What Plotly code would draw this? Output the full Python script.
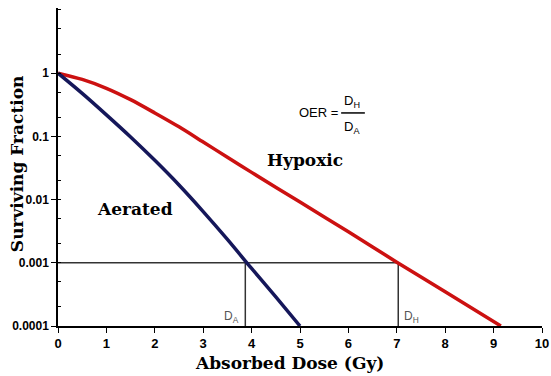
import plotly.graph_objects as go

# Dose (Gy) and log10(surviving fraction)
aerated_dose = [0, 0.5, 1.0, 1.5, 2.0, 2.5, 3.0, 3.5, 4.0, 4.5, 5.0]
aerated_logsf = [0, -0.32, -0.66, -1.01, -1.38, -1.77, -2.19, -2.63, -3.09, -3.54, -4.0]

hypoxic_dose = [0, 0.5, 1.0, 1.5, 2.0, 2.5, 3.0, 3.5, 4.0, 5.0, 6.0, 7.0, 8.0, 9.15]
hypoxic_logsf = [0, -0.10, -0.24, -0.42, -0.63, -0.85, -1.09, -1.33, -1.57, -2.04, -2.51, -2.99, -3.46, -4.0]

aerated_sf = [10 ** v for v in aerated_logsf]
hypoxic_sf = [10 ** v for v in hypoxic_logsf]

# reference level and doses
ref_sf = 0.001
d_a = 3.87
d_h = 7.03
floor_sf = 0.0001

x_ticks = list(range(0, 11))
y_tickvals = [1, 0.1, 0.01, 0.001, 0.0001]
y_ticktext = ["1", "0.1", "0.01", "0.001", "0.0001"]

ref_color = "#333333"
fig = go.Figure()

# reference lines
fig.add_trace(go.Scatter(x=[0, d_h], y=[ref_sf, ref_sf], mode="lines",
                         line=dict(color=ref_color, width=1.5), hoverinfo="skip"))
fig.add_trace(go.Scatter(x=[d_a, d_a], y=[floor_sf, ref_sf], mode="lines",
                         line=dict(color=ref_color, width=1.5), hoverinfo="skip"))
fig.add_trace(go.Scatter(x=[d_h, d_h], y=[floor_sf, ref_sf], mode="lines",
                         line=dict(color=ref_color, width=1.5), hoverinfo="skip"))

fig.add_trace(go.Scatter(x=hypoxic_dose, y=hypoxic_sf, mode="lines", name="Hypoxic",
                         line=dict(color="#CC1111", width=3.5, shape="spline", smoothing=0.8)))
fig.add_trace(go.Scatter(x=aerated_dose, y=aerated_sf, mode="lines", name="Aerated",
                         line=dict(color="#15175A", width=3.5, shape="spline", smoothing=0.8)))

serif = "DejaVu Serif"
sans = "Liberation Sans"

frac_y = 0.670
annotations = [
    dict(x=-0.0847, y=0.509, xref="paper", yref="paper", xanchor="center", yanchor="middle",
         text="<b>Surviving Fraction</b>",
         textangle=-90, showarrow=False, font=dict(family=serif, size=17, color="black")),
    dict(x=0.479, y=-0.117, xref="paper", yref="paper", xanchor="center", yanchor="middle",
         text="<b>Absorbed Dose (Gy)</b>",
         showarrow=False, font=dict(family=serif, size=17, color="black")),
    dict(x=5.10, y=-1.375, text="<b>Hypoxic</b>", showarrow=False,
         xanchor="center", yanchor="middle",
         font=dict(family=serif, size=17, color="black")),
    dict(x=1.59, y=-2.15, text="<b>Aerated</b>", showarrow=False,
         xanchor="center", yanchor="middle",
         font=dict(family=serif, size=17, color="black")),
    dict(x=d_a - 0.08, y=-3.85, text="D<sub>A</sub>", showarrow=False, xanchor="right",
         yanchor="middle", font=dict(family=sans, size=12, color="#555555")),
    dict(x=d_h + 0.08, y=-3.85, text="D<sub>H</sub>", showarrow=False, xanchor="left",
         yanchor="middle", font=dict(family=sans, size=12, color="#555555")),
    dict(x=0.582, y=frac_y, xref="paper", yref="paper", text="OER =", showarrow=False,
         xanchor="right", yanchor="middle", font=dict(family=sans, size=13, color="black")),
    dict(x=0.608, y=frac_y + 0.004, xref="paper", yref="paper", yanchor="bottom",
         xanchor="center", text="D<sub>H</sub>", showarrow=False,
         font=dict(family=sans, size=13, color="black")),
    dict(x=0.608, y=frac_y - 0.012, xref="paper", yref="paper", yanchor="top",
         xanchor="center", text="D<sub>A</sub>", showarrow=False,
         font=dict(family=sans, size=13, color="black")),
]

fig.update_layout(
    width=551, height=376,
    margin=dict(l=58, r=9, t=8, b=50),
    paper_bgcolor="white", plot_bgcolor="white",
    showlegend=False,
    annotations=annotations,
    shapes=[dict(type="line", xref="paper", yref="paper", x0=0.585, x1=0.634, y0=frac_y, y1=frac_y,
                 line=dict(color="black", width=1.5))],
)

fig.update_xaxes(range=[0, 10], tickvals=x_ticks, showgrid=False, zeroline=False,
                 automargin=False, ticklabeloverflow="allow",
                 showline=True, linecolor="black", linewidth=1.5,
                 ticks="outside", ticklen=5, tickcolor="black",
                 tickfont=dict(family=sans, size=13, color="black", weight="bold"))
fig.update_yaxes(type="log", range=[-4, 1.03], tickvals=y_tickvals, ticktext=y_ticktext,
                 showgrid=False, zeroline=False, automargin=False,
                 showline=True, linecolor="black", linewidth=1.5,
                 ticks="outside", ticklen=5, tickcolor="black",
                 minor=dict(ticks="inside", ticklen=3, tickcolor="black", showgrid=False),
                 tickfont=dict(family=sans, size=12, color="black", weight="bold"))

fig.write_html("out.html", config={"displayModeBar": False},
               post_script="document.body.style.margin='0';document.documentElement.style.overflow='hidden';")
